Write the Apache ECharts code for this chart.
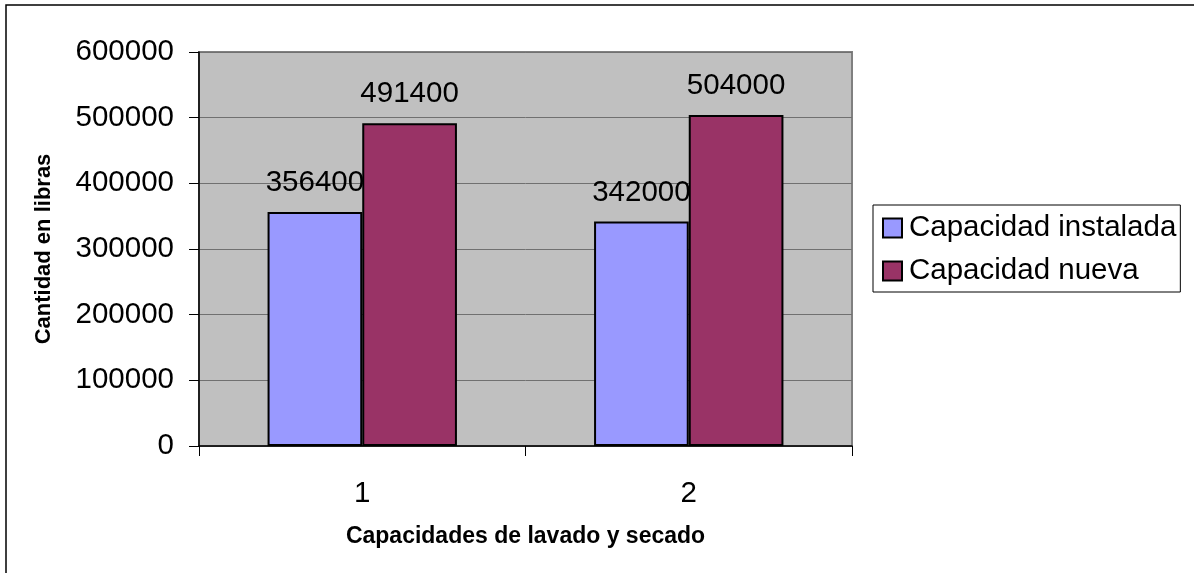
<!DOCTYPE html>
<html>
<head>
<meta charset="utf-8">
<script src="https://cdn.jsdelivr.net/npm/echarts@6/dist/echarts.min.js"></script>
<style>
  html, body { margin: 0; padding: 0; background: #fff; }
  #chart { width: 1194px; height: 573px; }
</style>
</head>
<body>
<div id="chart"></div>
<script>
// Capacity data per washing/drying configuration
const categories = ['1', '2'];
const capacidadInstalada = [356400, 342000];
const capacidadNueva = [491400, 504000];
const yTicks = { min: 0, max: 600000, interval: 100000 };

const FONT = 'Liberation Sans, Arial, sans-serif';
const BIG = 29.5;
const chart = echarts.init(document.getElementById('chart'));

chart.setOption({
  animation: false,
  backgroundColor: '#ffffff',
  textStyle: { fontFamily: FONT, color: '#000' },
  graphic: [{
    type: 'rect',
    shape: { x: 6, y: 5, width: 1300, height: 700 },
    style: { fill: 'none', stroke: '#000', lineWidth: 1.5 },
    z: -1
  }],
  grid: {
    left: 199, top: 52, right: 342, bottom: 127,
    show: true,
    backgroundColor: '#C0C0C0',
    borderColor: '#808080',
    borderWidth: 2
  },
  legend: {
    orient: 'vertical',
    left: 873, top: 205,
    padding: [8, 4, 6, 9],
    itemGap: 13,
    itemWidth: 19, itemHeight: 19,
    icon: 'rect',
    borderColor: '#000', borderWidth: 1,
    textStyle: { fontSize: BIG, fontFamily: FONT, color: '#000', padding: [0, 0, 0, 2] },
    itemStyle: { borderColor: '#000', borderWidth: 2 },
    data: ['Capacidad instalada', 'Capacidad nueva']
  },
  xAxis: {
    type: 'category',
    data: categories,
    boundaryGap: true,
    name: 'Capacidades de lavado y secado',
    nameLocation: 'middle',
    nameGap: 79,
    nameTextStyle: { fontSize: 23, fontWeight: 'bold', fontFamily: FONT, color: '#000' },
    axisLine: { lineStyle: { color: '#000', width: 1.5 } },
    axisTick: { show: true, length: 10, alignWithLabel: false, lineStyle: { color: '#000' } },
    axisLabel: { fontSize: BIG, margin: 33, color: '#000', fontFamily: FONT },
    splitLine: { show: false }
  },
  yAxis: {
    type: 'value',
    min: yTicks.min, max: yTicks.max, interval: yTicks.interval,
    name: 'Cantidad en libras',
    nameLocation: 'middle',
    nameGap: 144,
    nameTextStyle: { fontSize: 22, fontWeight: 'bold', fontFamily: FONT, color: '#000' },
    axisLine: { show: true, lineStyle: { color: '#000', width: 1.5 } },
    axisTick: { show: true, length: 10, lineStyle: { color: '#000' } },
    axisLabel: { fontSize: BIG, margin: 25, color: '#000', fontFamily: FONT, formatter: v => String(v) },
    splitLine: { show: true, lineStyle: { color: '#707070', width: 1 } }
  },
  series: [
    {
      name: 'Capacidad instalada',
      type: 'bar',
      data: capacidadInstalada,
      barGap: '0%',
      barCategoryGap: '42%',
      itemStyle: { color: '#9999FF', borderColor: '#000', borderWidth: 2 },
      label: { show: true, position: 'top', distance: 14, fontSize: BIG, color: '#000', fontFamily: FONT }
    },
    {
      name: 'Capacidad nueva',
      type: 'bar',
      data: capacidadNueva,
      barGap: '0%',
      barCategoryGap: '42%',
      itemStyle: { color: '#993366', borderColor: '#000', borderWidth: 2 },
      label: { show: true, position: 'top', distance: 14, fontSize: BIG, color: '#000', fontFamily: FONT }
    }
  ]
});
</script>
</body>
</html>
